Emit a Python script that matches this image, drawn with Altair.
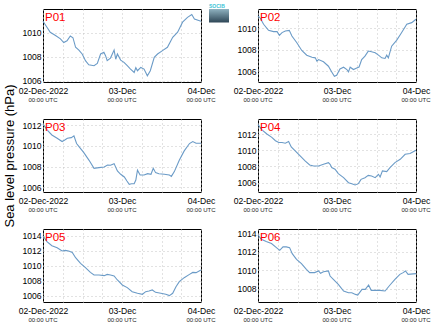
import altair as alt
import pandas as pd

STATIONS = ["P01", "P02", "P03", "P04", "P05", "P06"]

P01_HOURS = [0, 1.2, 2.2, 3.8, 5.3, 6.3, 7.3, 8.3, 9.1, 9.9, 10.9, 11.9, 12.9, 13.9, 15.5, 16.5, 17.5, 18.5, 19.0, 19.5, 20.5, 21.6, 22.1, 22.6, 23.6, 24.6, 25.6, 26.6, 27.7, 28.2, 28.7, 29.7, 30.7, 31.7, 32.6, 33.8, 34.8, 36.3, 37.8, 39.4, 40.9, 42.4, 43.9, 45.2, 46.0, 48.0]
P01_HPA = [1010.98, 1010.48, 1010.05, 1009.78, 1009.5, 1009.2, 1009.35, 1009.75, 1009.6, 1008.8, 1008.57, 1008.24, 1007.68, 1007.34, 1007.26, 1007.45, 1008.24, 1008.38, 1008.1, 1007.68, 1007.9, 1008.57, 1007.8, 1008.24, 1007.73, 1007.54, 1007.26, 1006.98, 1006.7, 1007.1, 1006.84, 1007.12, 1006.98, 1006.42, 1006.84, 1007.96, 1008.24, 1008.52, 1008.8, 1009.64, 1010.06, 1010.9, 1011.3, 1011.54, 1011.17, 1010.98]

P02_HOURS = [0, 0.7, 1.7, 3.2, 4.7, 5.8, 6.5, 7.3, 8.3, 9.5, 10.3, 11.8, 13.3, 14.8, 16.4, 17.4, 17.9, 18.4, 19.9, 21.4, 22.4, 23.2, 23.9, 24.9, 26.0, 27.0, 27.5, 28.0, 29.0, 30.0, 30.7, 31.5, 32.5, 33.5, 34.5, 35.6, 36.6, 37.6, 38.6, 39.1, 39.6, 40.6, 42.1, 43.6, 45.2, 46.7, 48.0]
P02_HPA = [1011.16, 1010.94, 1010.38, 1009.81, 1009.69, 1009.69, 1009.34, 1009.6, 1009.75, 1009.81, 1009.28, 1008.66, 1007.94, 1007.5, 1007.31, 1007.25, 1006.94, 1007.09, 1006.88, 1006.47, 1005.94, 1005.53, 1005.63, 1006.22, 1006.38, 1006.16, 1005.94, 1006.38, 1006.16, 1006.31, 1006.4, 1007.09, 1007.41, 1007.88, 1007.81, 1007.72, 1007.5, 1007.25, 1007.19, 1007.5, 1007.25, 1008.34, 1008.88, 1009.59, 1010.38, 1010.53, 1010.84]

P03_HOURS = [0, 1.3, 2.7, 4.3, 5.8, 6.5, 7.4, 8.6, 9.4, 10.2, 11.0, 12.4, 14.0, 15.5, 17.0, 18.6, 19.6, 20.5, 21.6, 22.6, 23.6, 24.7, 25.5, 26.2, 26.9, 27.7, 28.2, 28.7, 29.5, 30.7, 31.8, 32.8, 33.5, 34.2, 35.2, 36.8, 38.4, 39.0, 39.9, 41.4, 42.9, 44.5, 45.5, 46.5, 48.0]
P03_HPA = [1012.1, 1011.52, 1011.06, 1010.74, 1010.42, 1010.55, 1010.74, 1010.8, 1010.97, 1010.23, 1009.9, 1009.35, 1008.61, 1007.84, 1007.9, 1007.97, 1008.16, 1008.13, 1008.29, 1007.58, 1007.26, 1007.0, 1006.61, 1006.29, 1006.35, 1006.35, 1006.7, 1007.65, 1007.19, 1007.19, 1007.32, 1007.26, 1007.84, 1007.42, 1007.32, 1007.26, 1007.19, 1007.06, 1007.52, 1008.61, 1009.52, 1010.23, 1010.42, 1010.26, 1010.26]

P04_HOURS = [0, 1.2, 2.7, 4.2, 5.3, 6.3, 7.3, 8.3, 9.3, 10.1, 11.3, 12.8, 14.3, 15.7, 16.9, 18.4, 19.9, 21.4, 21.9, 22.4, 23.4, 24.4, 26.0, 27.5, 28.5, 29.5, 30.5, 31.3, 32.5, 33.5, 34.5, 35.6, 36.6, 37.1, 37.8, 39.1, 40.1, 41.6, 43.2, 44.7, 46.2, 48.0]
P04_HPA = [1013.16, 1012.5, 1012.0, 1011.59, 1011.17, 1010.95, 1010.95, 1010.87, 1011.07, 1010.41, 1009.92, 1009.3, 1008.68, 1008.18, 1008.06, 1008.06, 1008.27, 1008.47, 1008.27, 1007.86, 1007.65, 1007.12, 1006.62, 1006.0, 1005.88, 1005.71, 1005.88, 1006.41, 1006.62, 1006.9, 1006.82, 1006.62, 1007.03, 1006.7, 1007.45, 1007.36, 1007.86, 1008.47, 1008.88, 1009.5, 1009.59, 1010.0]

P05_HOURS = [0, 1.2, 2.7, 4.3, 5.8, 6.8, 7.8, 8.9, 9.9, 11.4, 12.9, 14.4, 15.5, 17.0, 18.6, 19.5, 20.5, 21.6, 22.6, 24.1, 25.6, 27.1, 28.7, 30.2, 31.2, 32.2, 33.2, 34.2, 35.8, 37.3, 38.4, 39.4, 40.4, 41.4, 42.9, 44.5, 45.5, 46.5, 48.0]
P05_HPA = [1014.0, 1013.2, 1012.67, 1012.4, 1011.96, 1012.04, 1011.96, 1011.78, 1011.07, 1010.31, 1009.73, 1009.1, 1008.76, 1008.76, 1008.67, 1008.84, 1008.76, 1008.62, 1008.09, 1007.42, 1007.07, 1006.53, 1006.31, 1006.18, 1006.53, 1006.62, 1006.76, 1006.44, 1006.31, 1006.18, 1006.0, 1006.31, 1007.2, 1007.87, 1008.4, 1008.84, 1009.1, 1009.07, 1009.42]

P06_HOURS = [0, 1.0, 2.5, 4.1, 5.6, 6.6, 7.6, 8.6, 9.6, 10.4, 11.7, 13.2, 14.7, 15.7, 17.2, 18.4, 19.0, 19.9, 21.4, 21.9, 22.9, 24.4, 26.0, 27.5, 28.5, 29.6, 30.3, 31.6, 32.6, 33.6, 34.4, 35.6, 37.1, 38.6, 40.1, 41.6, 43.1, 44.1, 44.8, 45.6, 48.0]
P06_HPA = [1013.85, 1013.38, 1013.13, 1012.91, 1012.47, 1012.18, 1012.55, 1012.55, 1012.47, 1011.82, 1011.2, 1010.73, 1010.11, 1009.75, 1009.75, 1009.93, 1009.67, 1009.85, 1009.93, 1009.38, 1009.02, 1008.47, 1007.75, 1007.56, 1007.56, 1007.38, 1007.31, 1007.93, 1007.93, 1008.4, 1007.82, 1007.82, 1007.82, 1007.75, 1008.4, 1009.02, 1009.56, 1009.75, 1009.93, 1009.56, 1009.64]

HOURS = [P01_HOURS, P02_HOURS, P03_HOURS, P04_HOURS, P05_HOURS, P06_HOURS]
HPA = [P01_HPA, P02_HPA, P03_HPA, P04_HPA, P05_HPA, P06_HPA]

Y_DOMAINS = [[1005.9, 1012.0], [1005.0, 1011.8], [1005.55, 1012.6],
             [1004.85, 1013.85], [1005.15, 1014.9], [1006.55, 1014.5]]
Y_TICKS = [[1006, 1008, 1010], [1006, 1008, 1010], [1006, 1008, 1010, 1012],
           [1006, 1008, 1010, 1012], [1006, 1008, 1010, 1012, 1014], [1008, 1010, 1012, 1014]]

X_TICK_HOURS = [0, 6, 12, 18, 24, 30, 36, 42, 48]
DAY_HOURS = [0, 24, 48]
DAY_LABELS = ["02-Dec-2022", "03-Dec", "04-Dec"]
TIME_LABEL = "00:00 UTC"
Y_TITLE = "Sea level pressure (hPa)"

W, H = 158, 73
FONT = "Liberation Sans"
LINE_COLOR = "#6b9bc7"

label_expr = " : ".join(
    f"datum.value == {h} ? '{t}'" for h, t in zip(DAY_HOURS, DAY_LABELS)
) + " : ''"

XSCALE = alt.Scale(domain=[0, 48], nice=False, zero=False)
XAXIS = alt.Axis(values=X_TICK_HOURS, labelExpr=label_expr, title="",
                 labelFlush=False, labelOverlap=False, labelPadding=4)


def panel(i):
    df = pd.DataFrame({"hours": HOURS[i], "hpa": HPA[i]})
    yaxis_kw = dict(values=Y_TICKS[i], labelPadding=2, format="d")
    if i == 2:
        yaxis_kw.update(title=Y_TITLE, titleX=-34, titleBaseline="middle",
                        titleFontSize=13, titleFont=FONT, titleFontWeight="normal",
                        titleColor="black")
    else:
        yaxis_kw.update(title="")
    line = alt.Chart(df).mark_line(color=LINE_COLOR, strokeWidth=1.1).encode(
        x=alt.X("hours:Q", scale=XSCALE, axis=XAXIS),
        y=alt.Y("hpa:Q", scale=alt.Scale(domain=Y_DOMAINS[i], nice=False, zero=False),
                axis=alt.Axis(**yaxis_kw)),
    )
    name = alt.Chart(pd.DataFrame({"t": [STATIONS[i]]})).mark_text(
        color="#ff0000", fontSize=11.5, font=FONT, align="left", baseline="alphabetic"
    ).encode(x=alt.value(2), y=alt.value(11.5), text="t:N")
    utc = alt.Chart(pd.DataFrame({"hours": DAY_HOURS, "t": [TIME_LABEL] * 3})).mark_text(
        fontSize=6, font=FONT, color="#222222", baseline="middle", align="center"
    ).encode(x=alt.X("hours:Q", scale=XSCALE, axis=XAXIS), y=alt.value(H + 18), text="t:N")
    layers = [line, name, utc]
    if i == 0:
        logo_rect = alt.Chart(pd.DataFrame({"a": [0]})).mark_rect(
            fill=alt.Gradient(gradient="linear",
                              stops=[alt.GradientStop(color="#8fb2c0", offset=0),
                                     alt.GradientStop(color="#2e4656", offset=1)],
                              x1=0, x2=0, y1=0, y2=1)
        ).encode(x=alt.value(166), x2=alt.value(186), y=alt.value(0), y2=alt.value(13.5))
        logo_text = alt.Chart(pd.DataFrame({"t": ["SOCIB"]})).mark_text(
            color="#3cc3d6", fontSize=5, font=FONT, fontWeight="bold", align="left",
            baseline="alphabetic"
        ).encode(x=alt.value(166), y=alt.value(-1), text="t:N")
        layers += [logo_rect, logo_text]
    return alt.layer(*layers).properties(width=W, height=H)


chart = alt.concat(*[panel(i) for i in range(6)], columns=2,
                   spacing={"row": 37, "column": 57}, bounds="flush").properties(
    padding={"left": 2, "top": 3, "right": 0, "bottom": 0}
).configure_axis(
    labelFont=FONT, labelFontSize=8.6, labelColor="black", grid=True,
    gridColor="#c4c4c4", gridDash=[1, 3], gridWidth=1, domain=False, ticks=False,
).configure_view(stroke="black", strokeWidth=1)

chart.save("out.html", embed_options={"renderer": "svg", "actions": False})
